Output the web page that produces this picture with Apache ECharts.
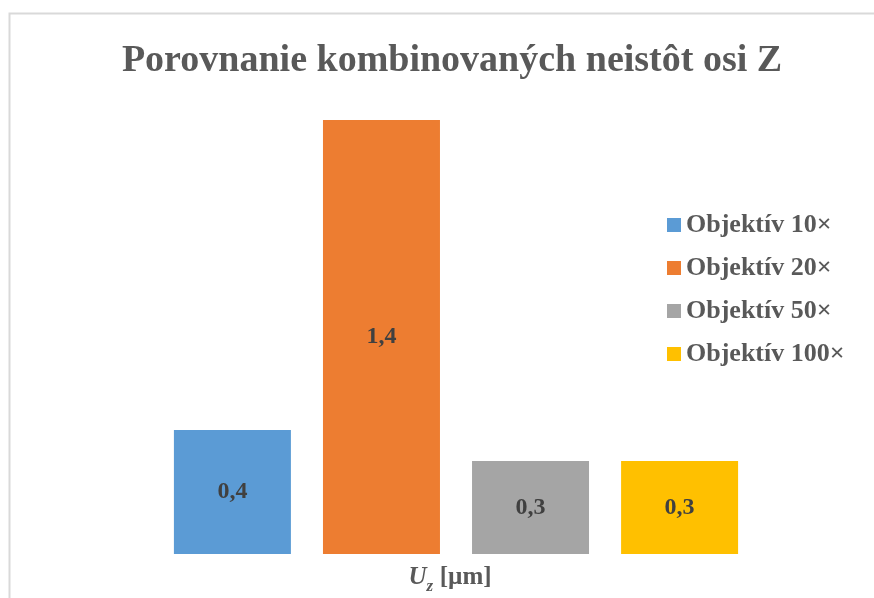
<!DOCTYPE html>
<html>
<head>
<meta charset="utf-8">
<script src="https://cdn.jsdelivr.net/npm/echarts@6/dist/echarts.min.js"></script>
<style>
  html, body { margin: 0; padding: 0; background: #fff; }
  #chart { width: 874px; height: 598px; }
</style>
</head>
<body>
<div id="chart"></div>
<script>
// data
var categories = ['Uz [µm]'];
var seriesNames = ['Objektív 10×', 'Objektív 20×', 'Objektív 50×', 'Objektív 100×'];
var seriesValues = [0.4, 1.4, 0.3, 0.3];
var colors = ['#5B9BD5', '#ED7D31', '#A5A5A5', '#FFC000'];

var serif = '"Liberation Serif", "Times New Roman", serif';

var myChart = echarts.init(document.getElementById('chart'));

var series = seriesNames.map(function (name, i) {
    return {
        name: name,
        type: 'bar',
        barWidth: 117,
        barGap: '27.4%',
        itemStyle: { color: colors[i] },
        label: {
            show: true,
            position: 'inside',
            color: '#404040',
            fontFamily: serif,
            fontWeight: 'bold',
            fontSize: 24,
            formatter: function (p) {
                return String(p.value).replace('.', ',');
            }
        },
        data: [seriesValues[i]]
    };
});

var option = {
    backgroundColor: '#fff',
    animation: false,
    graphic: [{
        type: 'rect',
        shape: { x: 9.5, y: 13.5, width: 1000, height: 1000 },
        style: { fill: 'none', stroke: '#d9d9d9', lineWidth: 2 },
        silent: true
    }],
    title: {
        text: 'Porovnanie kombinovaných neistôt osi Z',
        left: 447,
        textAlign: 'center',
        top: 37,
        textStyle: {
            fontFamily: serif,
            fontWeight: 'bold',
            fontSize: 38,
            color: '#595959'
        }
    },
    legend: {
        orient: 'vertical',
        left: 662,
        top: 207,
        icon: 'rect',
        itemWidth: 14,
        itemHeight: 14,
        itemGap: 17,
        textStyle: {
            fontFamily: serif,
            fontWeight: 'bold',
            fontSize: 26,
            color: '#595959'
        },
        data: seriesNames
    },
    grid: {
        left: 140,
        right: 102,
        top: 120,
        bottom: 44
    },
    xAxis: {
        type: 'category',
        data: categories,
        axisLine: { show: false },
        axisTick: { show: false },
        axisLabel: {
            margin: 11,
            padding: [0, 12, 0, 0],
            formatter: function () {
                return '{u|U}{z|z}  {t|[µm]}';
            },
            rich: {
                u: { fontFamily: serif, fontWeight: 'bold', fontStyle: 'italic', fontSize: 25, color: '#595959', lineHeight: 30, verticalAlign: 'top' },
                z: { fontFamily: serif, fontWeight: 'bold', fontStyle: 'italic', fontSize: 17, color: '#595959', lineHeight: 30, verticalAlign: 'bottom' },
                t: { fontFamily: serif, fontWeight: 'bold', fontSize: 25, color: '#595959', lineHeight: 30, verticalAlign: 'top' }
            }
        }
    },
    yAxis: {
        type: 'value',
        min: 0,
        max: 1.4,
        show: false,
        splitLine: { show: false }
    },
    series: series
};
myChart.setOption(option);
</script>
</body>
</html>
